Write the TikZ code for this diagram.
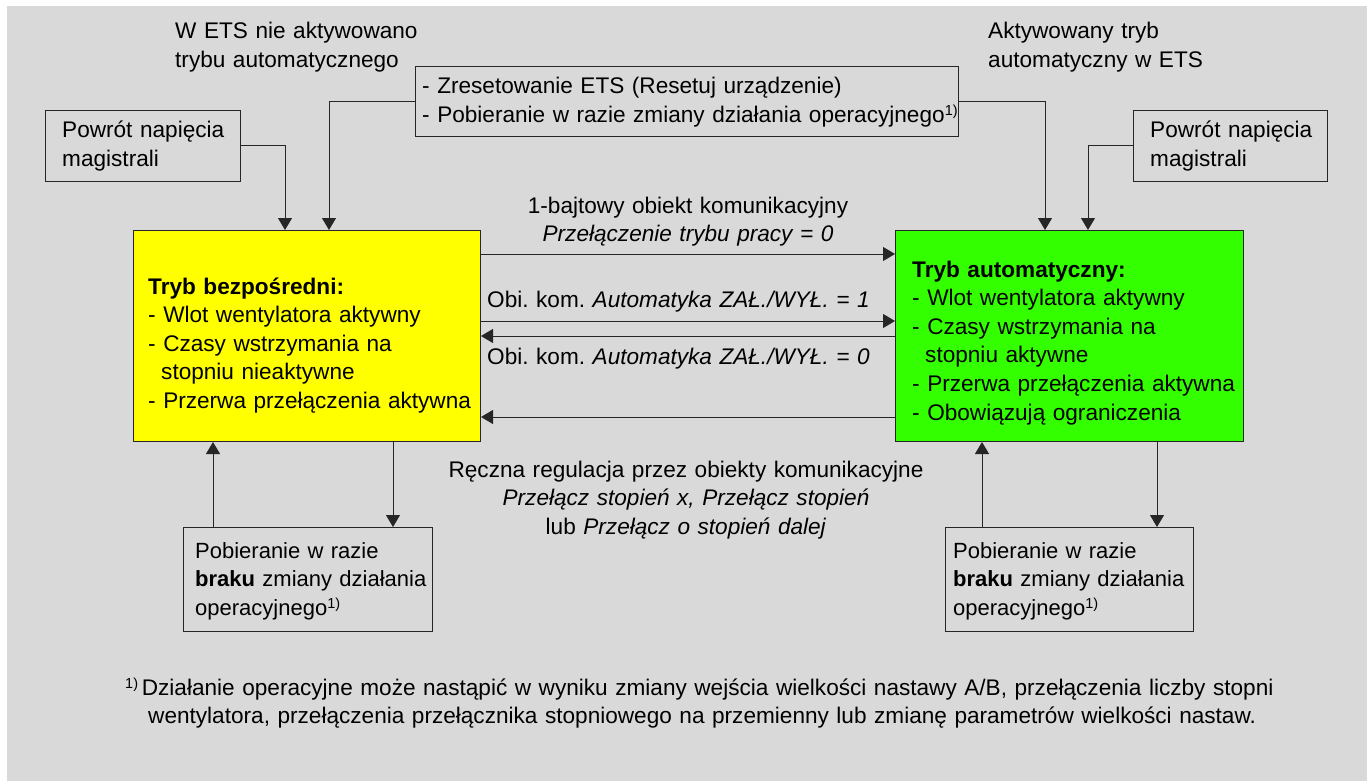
\documentclass[tikz,border=0pt]{standalone}
\usepackage{fontspec}
\setmainfont{Liberation Sans}
\usetikzlibrary{arrows.meta,calc}
\definecolor{bgray}{RGB}{217,217,217}
\definecolor{modeyellow}{RGB}{255,255,0}
\definecolor{modegreen}{RGB}{51,255,0}
\newcommand{\fsz}{\fontsize{22.6}{28.6}\selectfont\frenchspacing}
\newcommand{\fnmark}{\raisebox{7pt}{\fontsize{14.5}{14.5}\selectfont 1)}}
\begin{document}
\begin{tikzpicture}[x=1pt,y=-1pt,
  box/.style={draw=black!85, line width=1pt, inner sep=0pt, anchor=north west},
  txt/.style={inner sep=0pt, anchor=base west, align=left, font=\fsz, text width=600pt},
  ctxt/.style={inner sep=0pt, anchor=base, align=center, font=\fsz, text width=600pt},
  arr/.style={draw=black!85, line width=1pt, -{Triangle[length=12pt,width=14pt]}}]
\useasboundingbox (0,0) rectangle (1371,781);
\fill[bgray] (7,6) rectangle (1367,781);

% headings above the two modes
\node[txt] (lblNo) at (175,39) {W ETS nie aktywowano\\trybu automatycznego};
\node[txt] (lblYes) at (988,39) {Aktywowany tryb\\automatyczny w ETS};

% reset / download box
\node[box, minimum width=543pt, minimum height=70pt] (reset) at (415,66) {};
\node[txt] (resetT) at (422,94) {- Zresetowanie ETS (Resetuj urządzenie)\\- Pobieranie w razie zmiany działania operacyjnego\fnmark};

% bus voltage recovery boxes
\node[box, minimum width=195pt, minimum height=71pt] (powL) at (45,110) {};
\node[txt] (powLT) at (62,138) {Powrót napięcia\\magistrali};
\node[box, minimum width=194pt, minimum height=71pt] (powR) at (1133,110) {};
\node[txt] (powRT) at (1150,138) {Powrót napięcia\\magistrali};

% the two operating modes
\node[box, fill=modeyellow, minimum width=347pt, minimum height=211pt] (direct) at (133,230) {};
\node[txt] (directT) at (148,294) {\textbf{Tryb bezpośredni:}\\- Wlot wentylatora aktywny\\- Czasy wstrzymania na\\\hspace*{13pt}stopniu nieaktywne\\- Przerwa przełączenia aktywna};
\node[box, fill=modegreen, minimum width=348pt, minimum height=211pt] (auto) at (895,230) {};
\node[txt] (autoT) at (912,277) {\textbf{Tryb automatyczny:}\\- Wlot wentylatora aktywny\\- Czasy wstrzymania na\\\hspace*{13pt}stopniu aktywne\\- Przerwa przełączenia aktywna\\- Obowiązują ograniczenia};

% download boxes below the modes
\node[box, minimum width=249pt, minimum height=104pt] (dlL) at (183,527) {};
\node[txt, font=\fontsize{22}{28.6}\selectfont] (dlLT) at (195,558) {Pobieranie w razie\\\textbf{braku} zmiany działania\\operacyjnego\fnmark};
\node[box, minimum width=248pt, minimum height=104pt] (dlR) at (945,527) {};
\node[txt, font=\fontsize{22}{28.6}\selectfont] (dlRT) at (953,558) {Pobieranie w razie\\\textbf{braku} zmiany działania\\operacyjnego\fnmark};

% transition labels
\node[ctxt] (lblByte) at (688,213) {1-bajtowy obiekt komunikacyjny\\\textit{Przełączenie trybu pracy = 0}};
\node[txt] (lblOn) at (487,307) {Obi. kom. \textit{Automatyka ZAŁ./WYŁ. = 1}};
\node[txt] (lblOff) at (487,364) {Obi. kom. \textit{Automatyka ZAŁ./WYŁ. = 0}};
\node[ctxt] (lblManual) at (686,477) {Ręczna regulacja przez obiekty komunikacyjne\\\textit{Przełącz stopień x, Przełącz stopień}\\lub \textit{Przełącz o stopień dalej}};

% footnote
\node[txt, text width=1250pt] (note1) at (125,695) {\fnmark\,Działanie operacyjne może nastąpić w wyniku zmiany wejścia wielkości nastawy A/B, przełączenia liczby stopni};
\node[txt, text width=1250pt] (note2) at (148,723) {wentylatora, przełączenia przełącznika stopniowego na przemienny lub zmianę parametrów wielkości nastaw.};

% connector rows and columns
\coordinate (r1) at (0,254);
\coordinate (r2) at (0,321);
\coordinate (r3) at (0,336);
\coordinate (r4) at (0,417);
\coordinate (cL1) at (285,0);
\coordinate (cL2) at (329,0);
\coordinate (cR1) at (1045,0);
\coordinate (cR2) at (1088,0);
\coordinate (cL3) at (213,0);
\coordinate (cL4) at (393,0);
\coordinate (cR3) at (982,0);
\coordinate (cR4) at (1157,0);

% inputs from above
\draw[arr] (powL.east) -| (direct.north -| cL1);
\draw[arr] (reset.west) -| (direct.north -| cL2);
\draw[arr] (reset.east) -| (auto.north -| cR1);
\draw[arr] (powR.west) -| (auto.north -| cR2);

% transitions between the modes
\draw[arr] (direct.east |- r1) -- (auto.west |- r1);
\draw[arr] (direct.east |- r2) -- (auto.west |- r2);
\draw[arr] (auto.west |- r3) -- (direct.east |- r3);
\draw[arr] (auto.west |- r4) -- (direct.east |- r4);

% loops through the download boxes
\draw[arr] (dlL.north -| cL3) -- (direct.south -| cL3);
\draw[arr] (direct.south -| cL4) -- (dlL.north -| cL4);
\draw[arr] (dlR.north -| cR3) -- (auto.south -| cR3);
\draw[arr] (auto.south -| cR4) -- (dlR.north -| cR4);
\end{tikzpicture}
\end{document}
